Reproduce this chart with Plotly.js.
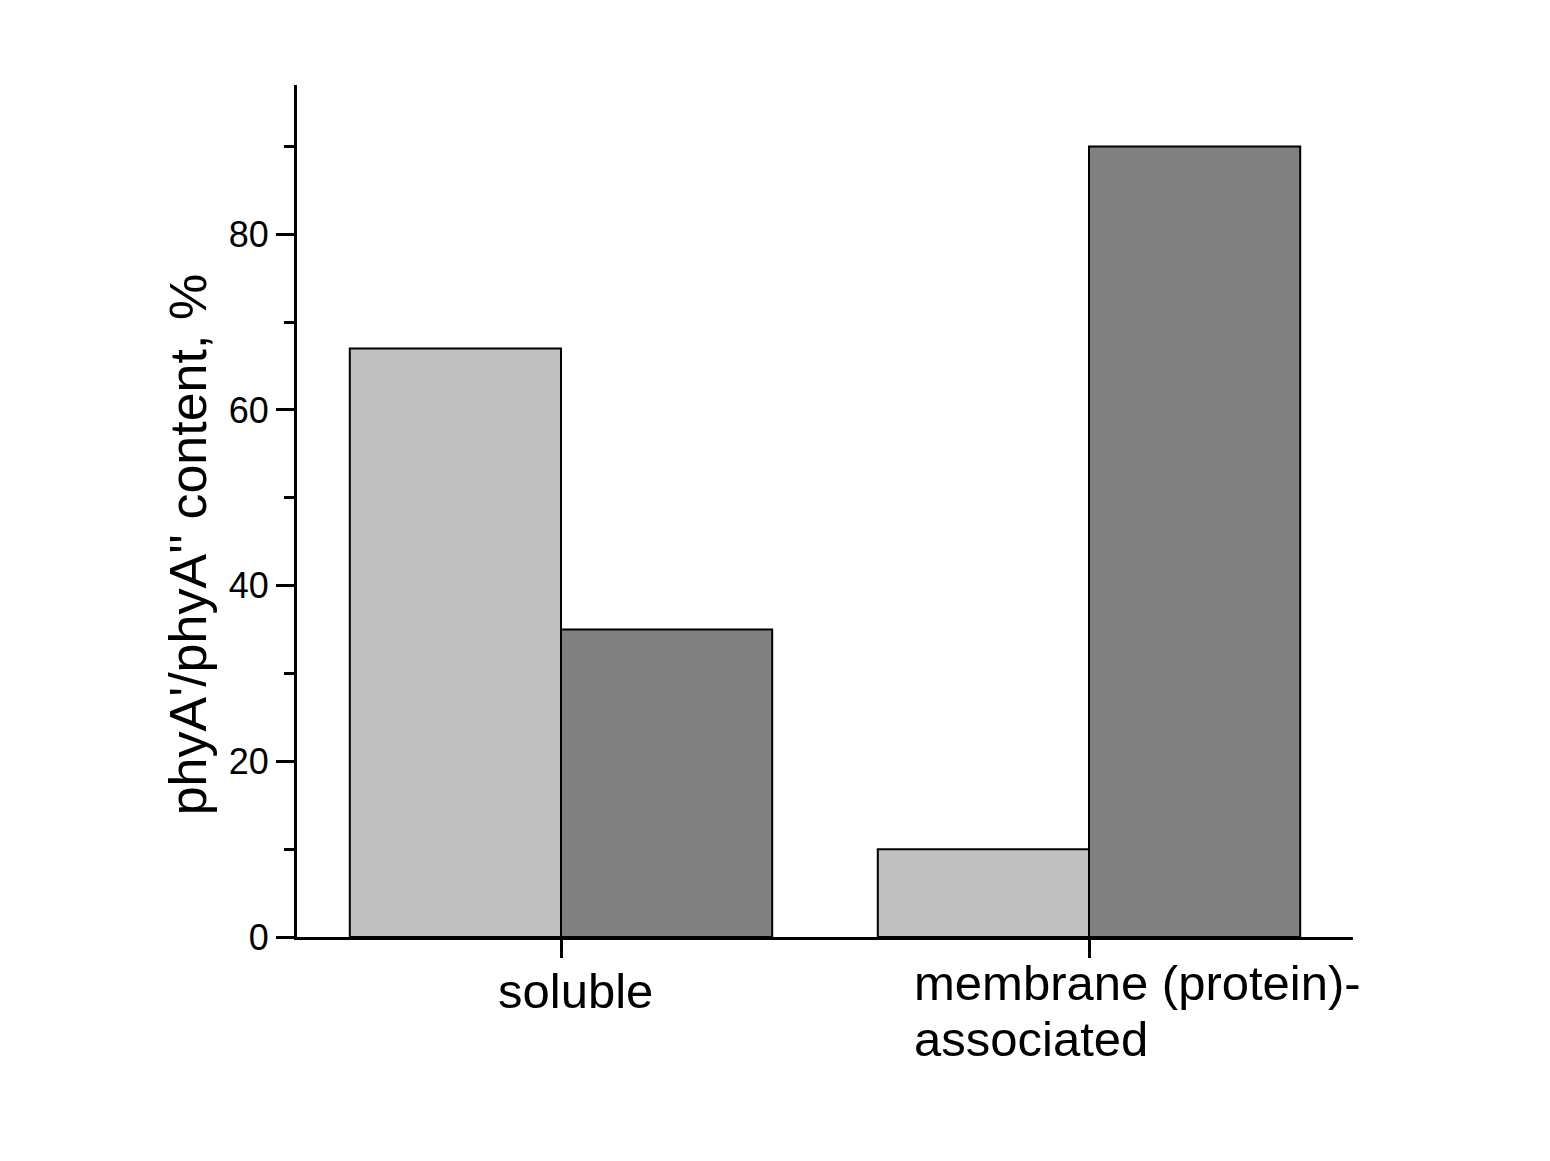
<!DOCTYPE html>
<html>
<head>
<meta charset="utf-8">
<script src="https://cdn.plot.ly/plotly-3.0.1.min.js"></script>
<style>html,body{margin:0;padding:0;background:#fff;}#chart{width:1550px;height:1161px;}</style>
</head>
<body>
<div id="chart"></div>
<script>
// Data
const categories = ["soluble", "membrane (protein)-<br>associated"];
const seriesNames = ["phyA'", "phyA''"];
const phyA1 = [67, 10];
const phyA2 = [35, 90];
const yTitle = "phyA'/phyA'' content, %";
const yTickVals = [0, 20, 40, 60, 80];

const FONT = "Liberation Sans, Arial, sans-serif";

const traces = [
  {type: "bar", name: seriesNames[0], x: categories, y: phyA1,
   marker: {color: "#c0c0c0", line: {color: "#000", width: 2}}},
  {type: "bar", name: seriesNames[1], x: categories, y: phyA2,
   marker: {color: "#808080", line: {color: "#000", width: 2}}}
];

// Category label annotations (left-aligned lines)
const labelShift = [{x: -65, y: -25}, {x: -177, y: -17}];
const lineStep = 56;
const annotations = [];
categories.forEach((c, i) => {
  c.split("<br>").forEach((line, j) => {
    annotations.push({
      xref: "x", yref: "paper", x: c, y: 0,
      text: line, showarrow: false,
      xanchor: "left", yanchor: "top",
      xshift: labelShift[i].x, yshift: labelShift[i].y - j * lineStep,
      font: {family: FONT, size: 49, color: "#000"}
    });
  });
});
annotations.push({
  xref: "paper", yref: "paper", x: -0.103, y: 0.46,
  text: yTitle, showarrow: false, textangle: -90,
  xanchor: "center", yanchor: "middle",
  font: {family: FONT, size: 52, color: "#000"}
});

const layout = {
  width: 1550, height: 1161,
  margin: {l: 297, r: 197, t: 85, b: 224},
  paper_bgcolor: "#fff", plot_bgcolor: "#fff",
  showlegend: false,
  barmode: "group", bargap: 0.2, bargroupgap: 0,
  font: {family: FONT, color: "#000"},
  xaxis: {
    type: "category", range: [-0.5, 1.5],
    showline: true, linecolor: "#000", linewidth: 3,
    ticks: "outside", ticklen: 18, tickwidth: 3, tickcolor: "#000",
    showticklabels: false, showgrid: false, zeroline: false
  },
  yaxis: {
    range: [0, 97],
    showline: true, linecolor: "#000", linewidth: 3,
    ticks: "outside", ticklen: 18, tickwidth: 3, tickcolor: "#000",
    tickvals: yTickVals,
    tickfont: {family: FONT, size: 36, color: "#000"},
    minor: {dtick: 10, tick0: 10, ticks: "outside", ticklen: 10, tickwidth: 3, tickcolor: "#000", showgrid: false},
    showgrid: false, zeroline: false
  },
  annotations: annotations
};

Plotly.newPlot("chart", traces, layout, {displayModeBar: false, staticPlot: true});
</script>
</body>
</html>
